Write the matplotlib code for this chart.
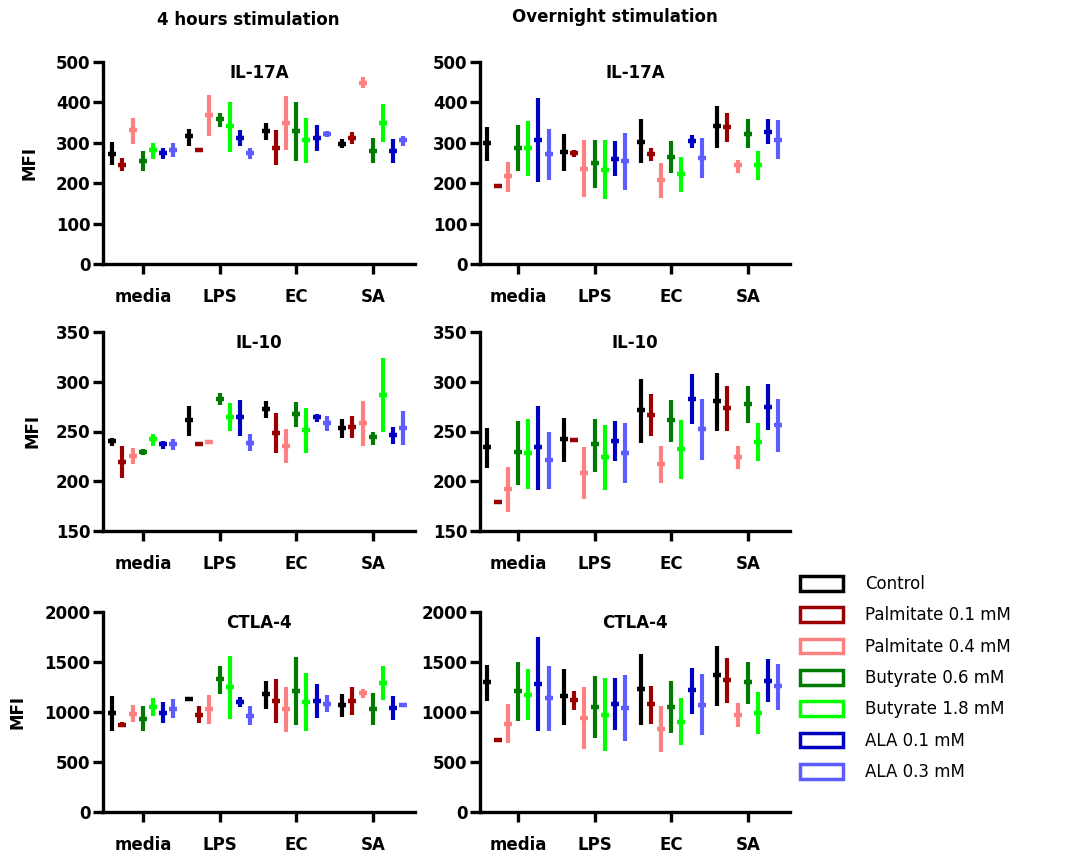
import numpy as np
import matplotlib.pyplot as plt
from matplotlib.patches import Patch

groups = ['media', 'LPS', 'EC', 'SA']
series = ['Control', 'Palmitate 0.1 mM', 'Palmitate 0.4 mM', 'Butyrate 0.6 mM',
          'Butyrate 1.8 mM', 'ALA 0.1 mM', 'ALA 0.3 mM']
colors = ['#000000', '#9b0000', '#ff8080', '#007a00', '#00ff00', '#0000c0', '#5c5cff']

# values per group (rows) and series (columns): mean, low, high
il17_4h_mean = [[272, 246, 331, 256, 281, 274, 283],
                [316, 283, 368, 358, 341, 312, 274],
                [329, 288, 348, 329, 306, 311, 321],
                [298, 313, 449, 280, 350, 280, 306]]
il17_4h_low = [[244, 231, 296, 231, 259, 259, 264],
               [293, 277, 316, 340, 276, 293, 259],
               [306, 246, 281, 255, 249, 279, 314],
               [286, 296, 435, 249, 303, 251, 293]]
il17_4h_high = [[302, 262, 362, 279, 299, 287, 299],
                [335, 288, 418, 374, 401, 331, 287],
                [349, 331, 416, 401, 362, 344, 328],
                [309, 326, 463, 312, 396, 309, 317]]

il17_on_mean = [[299, 192, 217, 288, 287, 308, 272],
                [276, 274, 236, 249, 233, 261, 254],
                [303, 272, 207, 266, 222, 304, 263],
                [341, 338, 244, 323, 244, 327, 308]]
il17_on_low = [[254, 192, 179, 229, 217, 202, 207],
               [231, 266, 167, 189, 160, 219, 184],
               [249, 254, 164, 226, 179, 286, 212],
               [288, 303, 226, 286, 207, 298, 260]]
il17_on_high = [[340, 192, 253, 345, 355, 412, 335],
                [321, 281, 307, 307, 307, 304, 324],
                [360, 287, 250, 304, 265, 319, 312],
                [391, 374, 257, 359, 279, 360, 357]]

il10_4h_mean = [[240.6, 219, 225.6, 229, 242, 237.3, 237.3],
                [261.4, 237.3, 239.3, 282.8, 264.7, 264.7, 238.6],
                [273, 248.6, 235.6, 267.7, 251.7, 264.4, 258.3],
                [253.7, 254.7, 258.7, 244.6, 286.8, 246.6, 253.7]]
il10_4h_low = [[235.6, 203.5, 217, 226, 235.6, 232.6, 231],
               [245.6, 235.6, 237.6, 276.7, 250.3, 245.6, 230.6],
               [263.7, 228.6, 218.6, 255, 228.6, 259.7, 250.7],
               [243.6, 243.6, 235.6, 236.6, 249.6, 237.6, 236.3]]
il10_4h_high = [[243.6, 235, 233, 232, 247.6, 240.6, 242],
                [276, 239.6, 241, 289, 279, 282, 247],
                [281, 269, 252.3, 280, 274, 267.7, 266],
                [263, 266, 281, 249.6, 324, 254.7, 270.4]]

il10_on_mean = [[234.6, 179.4, 192.5, 229.6, 228.6, 234.6, 221.6],
                [242.6, 241.6, 208.5, 237.6, 224.6, 240.6, 228.6],
                [271.7, 266.7, 217.5, 262, 232.6, 282.8, 252.7],
                [281, 273.7, 224.6, 277.7, 239.6, 274.7, 256.7]]
il10_on_low = [[213.5, 179.4, 169.4, 196.5, 192.5, 191.5, 192.5],
               [219.6, 241.6, 182.4, 209.5, 191.5, 220.6, 198.5],
               [238.6, 245.6, 198.5, 239.6, 202.5, 257.7, 221.6],
               [250.7, 250.7, 212.5, 258.7, 220.6, 251.3, 229.3]]
il10_on_high = [[254, 179.4, 214, 261, 263, 276, 250],
                [264, 241.6, 234, 263, 257, 261, 259],
                [303, 288, 235, 282, 262, 308, 283],
                [309, 296, 235, 296, 259, 297.5, 282.4]]

ctla4_4h_mean = [[993, 870, 983, 934, 1053, 993, 1033],
                 [1130, 973, 1033, 1326, 1253, 1103, 964],
                 [1176, 1110, 1033, 1209, 1103, 1113, 1083],
                 [1067, 1113, 1186, 1033, 1292, 1043, 1073]]
ctla4_4h_low = [[814, 847, 904, 814, 963, 894, 944],
                [1110, 894, 884, 1179, 934, 1047, 874],
                [1033, 894, 804, 874, 814, 944, 1003],
                [954, 973, 1136, 874, 1120, 924, 1073]]
ctla4_4h_high = [[1159, 897, 1066, 1056, 1136, 1096, 1126],
                 [1146, 1056, 1169, 1458, 1558, 1146, 1056],
                 [1309, 1329, 1249, 1548, 1395, 1279, 1169],
                 [1179, 1249, 1229, 1189, 1458, 1159, 1073]]

ctla4_on_mean = [[1302, 724, 884, 1213, 1173, 1282, 1143],
                 [1163, 1123, 944, 1053, 973, 1083, 1043],
                 [1233, 1083, 831, 1053, 904, 1223, 1073],
                 [1372, 1322, 973, 1302, 993, 1310, 1260]]
ctla4_on_low = [[1110, 724, 694, 914, 924, 814, 814],
                [874, 1023, 635, 744, 615, 824, 714],
                [874, 884, 605, 794, 674, 983, 774],
                [1063, 1093, 854, 1083, 784, 1100, 1020]]
ctla4_on_high = [[1475, 724, 1080, 1505, 1435, 1748, 1458],
                 [1435, 1206, 1249, 1356, 1336, 1336, 1366],
                 [1585, 1259, 1057, 1306, 1136, 1445, 1376],
                 [1665, 1545, 1086, 1505, 1196, 1530, 1480]]

panels = [
    ('IL-17A', il17_4h_mean, il17_4h_low, il17_4h_high, (0, 500), np.arange(0, 501, 100)),
    ('IL-17A', il17_on_mean, il17_on_low, il17_on_high, (0, 500), np.arange(0, 501, 100)),
    ('IL-10', il10_4h_mean, il10_4h_low, il10_4h_high, (150, 350), np.arange(150, 351, 50)),
    ('IL-10', il10_on_mean, il10_on_low, il10_on_high, (150, 350), np.arange(150, 351, 50)),
    ('CTLA-4', ctla4_4h_mean, ctla4_4h_low, ctla4_4h_high, (0, 2000), np.arange(0, 2001, 500)),
    ('CTLA-4', ctla4_on_mean, ctla4_on_low, ctla4_on_high, (0, 2000), np.arange(0, 2001, 500)),
]

W, H = 1069, 856
fig = plt.figure(figsize=(W / 100, H / 100), dpi=100)

col_x = [(103, 415), (480, 790)]
row_y = [(62, 264), (332, 531), (612, 812)]
xlims = [(-0.52, 3.55), (-0.495, 3.55)]
mfi_x = [38, 41, 26]   # right edge of the rotated "MFI" label, px

step = 0.133
for k, (title, mean, low, high, ylim, yticks) in enumerate(panels):
    r, c = divmod(k, 2)
    x0, x1 = col_x[c]
    y0, y1 = row_y[r]
    ax = fig.add_axes([x0 / W, 1 - y1 / H, (x1 - x0) / W, (y1 - y0) / H])
    mean = np.array(mean, dtype=float)
    low = np.array(low, dtype=float)
    high = np.array(high, dtype=float)
    for s in range(len(series)):
        xs = np.arange(len(groups)) + (s - 3) * step
        ax.errorbar(xs, mean[:, s], yerr=[mean[:, s] - low[:, s], high[:, s] - mean[:, s]],
                    fmt='_', color=colors[s], markersize=6, mew=3.2,
                    elinewidth=3, capsize=0)
    ax.set_xlim(*xlims[c])
    ax.set_ylim(*ylim)
    ax.set_yticks(yticks)
    ax.set_xticks(range(len(groups)))
    ax.set_xticklabels(groups)
    for sp in ['top', 'right']:
        ax.spines[sp].set_visible(False)
    for sp in ['left', 'bottom']:
        ax.spines[sp].set_linewidth(2.4)
    ax.tick_params(axis='both', width=2.4, length=7, labelsize=12, pad=2)
    ax.tick_params(axis='x', pad=10)
    for lab in ax.get_xticklabels() + ax.get_yticklabels():
        lab.set_fontweight('bold')
    ax.text(0.5, 0.99, title, transform=ax.transAxes, ha='center', va='top',
            fontsize=12, fontweight='bold')
    if c == 0:
        ax.set_ylabel('MFI', fontsize=12, fontweight='bold')
        ax.yaxis.set_label_coords((mfi_x[r] - x0) / (x1 - x0), 0.5)

fig.text(248 / W, 1 - 20 / H, '4 hours stimulation', ha='center', va='center',
         fontsize=12, fontweight='bold')
fig.text(615 / W, 1 - 17 / H, 'Overnight stimulation', ha='center', va='center',
         fontsize=12, fontweight='bold')

handles = [Patch(facecolor='white', edgecolor=col, linewidth=2.5) for col in colors]
fig.legend(handles, series, loc='upper left', bbox_to_anchor=(800 / W, 1 - 575 / H),
           frameon=False, fontsize=12, handlelength=2.6, handleheight=1.0,
           handletextpad=1.3, labelspacing=0.8, borderaxespad=0, borderpad=0)

fig.savefig('out.png', dpi=100)
